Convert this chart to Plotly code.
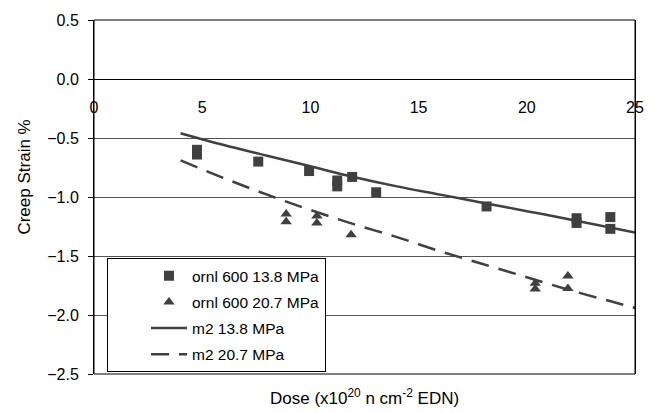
import plotly.graph_objects as go

# ---- data ----
sq_dose = [4.76, 4.76, 7.59, 9.94, 11.24, 11.24, 11.93, 13.04, 18.14, 22.3, 22.3, 23.86, 23.86]
sq_strain = [-0.60, -0.64, -0.70, -0.78, -0.86, -0.91, -0.83, -0.96, -1.08, -1.18, -1.22, -1.17, -1.27]

tri_dose = [8.88, 8.88, 10.3, 10.3, 11.88, 20.39, 20.39, 21.9, 21.9]
tri_strain = [-1.145, -1.21, -1.16, -1.22, -1.32, -1.73, -1.78, -1.67, -1.775]

m2_138_dose = [4, 6, 8, 10, 12, 14, 16, 18, 20, 22, 25]
m2_138_strain = [-0.46, -0.56, -0.65, -0.74, -0.83, -0.91, -0.98, -1.05, -1.12, -1.19, -1.30]

m2_207_dose = [4, 6, 8, 10, 12, 14, 16, 18, 20, 22, 24, 25]
m2_207_strain = [-0.69, -0.84, -0.98, -1.11, -1.23, -1.34, -1.46, -1.57, -1.68, -1.79, -1.89, -1.94]

x_ticks = [0, 5, 10, 15, 20, 25]
y_ticks = [0.5, 0.0, -0.5, -1.0, -1.5, -2.0, -2.5]

FONT = "Liberation Sans, Arial, Helvetica, sans-serif"
DARK = "#404040"

fig = go.Figure()
fig.add_trace(go.Scatter(x=sq_dose, y=sq_strain, mode="markers", name="ornl 600 13.8 MPa",
                         legendgroup="a",
                         marker=dict(symbol="square", size=10, color=DARK)))
fig.add_trace(go.Scatter(x=tri_dose, y=tri_strain, mode="markers", name="ornl 600 20.7 MPa",
                         legendgroup="b",
                         marker=dict(symbol="triangle-up", size=10, color=DARK)))
fig.add_trace(go.Scatter(x=m2_138_dose, y=m2_138_strain, mode="lines", name="m2 13.8 MPa",
                         legendgroup="c", line=dict(color=DARK, width=2.5, shape="spline")))
fig.add_trace(go.Scatter(x=m2_207_dose, y=m2_207_strain, mode="lines", name="m2 20.7 MPa",
                         legendgroup="d", line=dict(color=DARK, width=2.5, dash="18px,10px", shape="spline")))

fig.update_layout(
    width=656, height=413,
    margin=dict(l=94, r=20, t=13, b=39),
    paper_bgcolor="white", plot_bgcolor="white",
    font=dict(family=FONT, size=16, color="black"),
    showlegend=True,
    legend=dict(x=0.024, y=0.327, xanchor="left", yanchor="top",
                bgcolor="white", bordercolor="black", borderwidth=1,
                font=dict(size=15.5), tracegroupgap=3, itemwidth=36, indentation=38,
                traceorder="grouped"),
    xaxis=dict(range=[0, 25], tickvals=x_ticks, ticktext=[str(v) for v in x_ticks],
               showgrid=False, zeroline=False, anchor="free", position=(0 - (-2.5)) / 3.0,
               showline=True, linecolor="black", linewidth=1, ticks="",
               ticklabelstandoff=14, tickfont=dict(size=16)),
    yaxis=dict(range=[-2.5, 0.5], tickvals=y_ticks, tickformat=".1f",
               showgrid=True, gridcolor="#555555", gridwidth=1, zeroline=False,
               showline=True, mirror=True, linecolor="black", linewidth=1,
               ticks="outside", ticklen=5, tickcolor="black", ticklabelstandoff=6,
               tickfont=dict(size=16)),
    shapes=[dict(type="rect", xref="x domain", yref="y domain", x0=0, x1=1, y0=0, y1=1,
                 line=dict(color="black", width=1))],
    annotations=[
        dict(text="Dose (x10<sup>20</sup> n cm<sup>-2</sup> EDN)", xref="paper", yref="paper",
             x=0.5, y=-0.064, xanchor="center", yanchor="middle", showarrow=False,
             font=dict(size=17)),
        dict(text="Creep Strain %", xref="paper", yref="paper", x=-0.128, y=0.557,
             xanchor="center", yanchor="middle", textangle=-90, showarrow=False,
             font=dict(size=17)),
    ],
)

fig.write_html("out.html")
